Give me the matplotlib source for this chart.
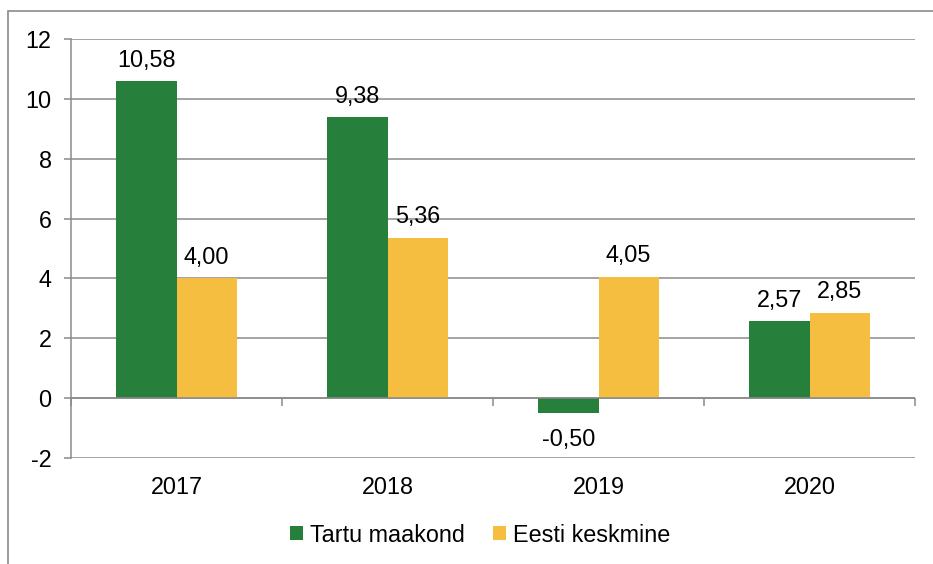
import numpy as np
import matplotlib.pyplot as plt
from matplotlib.patches import Rectangle

plt.rcParams['font.family'] = ['Liberation Sans', 'DejaVu Sans']

years = ['2017', '2018', '2019', '2020']
tartu = [10.58, 9.38, -0.50, 2.57]
eesti = [4.00, 5.36, 4.05, 2.85]
series_names = ['Tartu maakond', 'Eesti keskmine']

green = '#26803c'
yellow = '#f6be41'
grey = '#8a8a8a'
fs = 16.8


def fmt(v):
    return f"{v:.2f}".replace('.', ',')


fig = plt.figure(figsize=(9.33, 5.64), dpi=100)
ax = fig.add_axes([71 / 933, 1 - 458 / 564, 844 / 933, 419 / 564])

# chart border (cut off on right/bottom)
fig.patches.append(Rectangle((8 / 933, -0.1), 1.2, 1 - 11 / 564 + 0.1,
                             transform=fig.transFigure, fill=False,
                             edgecolor=grey, lw=1.2))

x = np.arange(len(years))
w = 0.285
b1 = ax.bar(x - w / 2, tartu, w, color=green, label=series_names[0], zorder=3)
b2 = ax.bar(x + w / 2, eesti, w, color=yellow, label=series_names[1], zorder=3)

for bars, vals in ((b1, tartu), (b2, eesti)):
    for r, v in zip(bars, vals):
        if v >= 0:
            ax.annotate(fmt(v), (r.get_x() + r.get_width() / 2, v),
                        xytext=(0, 7), textcoords='offset points',
                        ha='center', va='bottom', fontsize=fs)
        else:
            ax.annotate(fmt(v), (r.get_x() + r.get_width() / 2, v),
                        xytext=(0, -11), textcoords='offset points',
                        ha='center', va='top', fontsize=fs)

ax.set_xlim(-0.5, len(years) - 0.5)
ax.set_ylim(-2, 12)
ax.set_yticks(np.arange(-2, 13, 2))
ax.set_yticklabels([str(v) for v in range(-2, 13, 2)])
ax.yaxis.grid(True, color=grey, lw=1.1, zorder=0)
ax.set_axisbelow(True)

ax.set_xticks(x)
ax.set_xticklabels(years)
ax.tick_params(axis='x', length=0, pad=13, labelsize=fs)
ax.tick_params(axis='y', length=5, width=1.1, color=grey, pad=9, labelsize=fs)

for s in ['top', 'right', 'bottom']:
    ax.spines[s].set_visible(False)
ax.spines['left'].set_color(grey)
ax.spines['left'].set_linewidth(1.1)

# zero line with category boundary ticks
ax.axhline(0, color=grey, lw=1.1, zorder=4)
bounds = np.arange(len(years) + 1) - 0.5
ax.plot(bounds, np.zeros_like(bounds), ls='none', marker=3, ms=6,
        mec=grey, mew=1.1, zorder=4, clip_on=False)

fig.legend(loc='center', bbox_to_anchor=(480 / 933, 1 - 535 / 564),
           ncol=2, frameon=False, fontsize=fs, handlelength=0.55,
           handleheight=0.55, handletextpad=0.3, columnspacing=1.2)

fig.savefig('out.png', dpi=100)
